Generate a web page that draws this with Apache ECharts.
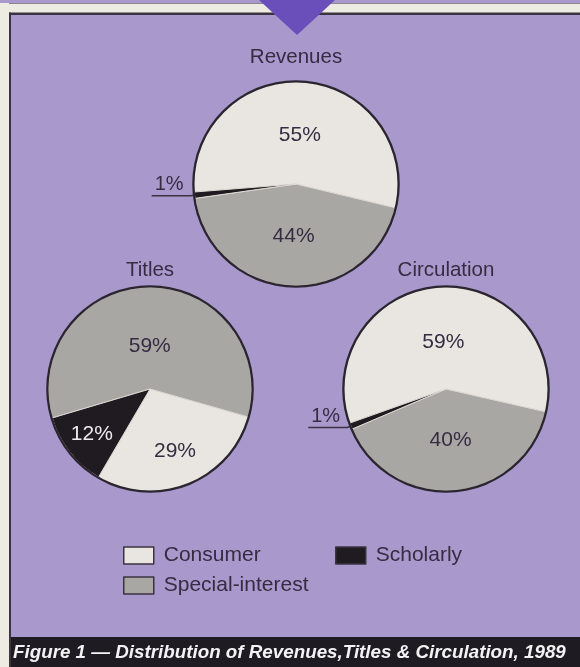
<!DOCTYPE html>
<html>
<head>
<meta charset="utf-8">
<script src="https://cdn.jsdelivr.net/npm/echarts@6/dist/echarts.min.js"></script>
<style>
  html, body { margin: 0; padding: 0; background: #a898cc; }
  #chart { width: 580px; height: 667px; }
</style>
</head>
<body>
<div id="chart"></div>
<script>
// Publishing industry shares, 1989 (percent)
const categories = ['Consumer', 'Special-interest', 'Scholarly'];
const revenues = [55, 44, 1];
const titles = [29, 59, 12];
const circulation = [59, 40, 1];
const pieTitles = ['Revenues', 'Titles', 'Circulation'];
const caption = 'Figure 1 \u2014 Distribution of Revenues,Titles & Circulation, 1989';

// Styling
const FONT = '"Liberation Sans", Arial, Helvetica, sans-serif';
const TEXT = '#352c42';
const PURPLE = '#a898cc';
const sliceColors = ['#e9e6e1', '#a9a7a4', '#201b21'];
const R = 102;

// Per-pie geometry and label radius factors (Consumer, Special-interest, Scholarly)
const pies = [
  { title: pieTitles[0], values: revenues, center: [296, 184], titleY: 58,
    startAngle: 184.5, clockwise: true, labelRadius: [0.9, 0.96, 1] },
  { title: pieTitles[1], values: titles, center: [150, 389], titleY: 271,
    startAngle: 239.7, clockwise: false, labelRadius: [1.24, 0.8, 1.37] },
  { title: pieTitles[2], values: circulation, center: [446, 389], titleY: 271,
    startAngle: 199.5, clockwise: true, labelRadius: [0.86, 0.96, 1] }
];

const isOutside = v => v < 5;

function makeLabelLayout(pie) {
  return function (p) {
    const v = pie.values[p.dataIndex];
    if (isOutside(v)) {
      const pts = p.labelLinePoints;
      if (!pts) return {};
      const end = pts[pts.length - 1];
      // text sits on top of the horizontal leader line
      return { x: end[0] + 3, y: end[1] - 1, align: 'left', verticalAlign: 'bottom',
               labelLinePoints: pts };
    }
    const r = p.labelRect;
    const lx = r.x + r.width / 2, ly = r.y + r.height / 2;
    const f = pie.labelRadius[p.dataIndex];
    const cx = pie.center[0], cy = pie.center[1];
    return { x: cx + (lx - cx) * f, y: cy + (ly - cy) * f, align: 'center', verticalAlign: 'middle' };
  };
}

const series = [];
pies.forEach(pie => {
  series.push({
    type: 'pie',
    name: pie.title,
    center: pie.center,
    radius: R,
    startAngle: pie.startAngle,
    clockwise: pie.clockwise,
    avoidLabelOverlap: false,
    silent: true,
    animation: false,
    itemStyle: { borderColor: '#dedbd5', borderWidth: 1 },
    label: {
      show: true,
      fontFamily: FONT,
      fontSize: 21,
      color: TEXT,
      formatter: p => p.value + '%'
    },
    labelLayout: makeLabelLayout(pie),
    data: categories.map((c, i) => {
      const v = pie.values[i];
      const out = isOutside(v);
      return {
        name: c,
        value: v,
        itemStyle: { color: sliceColors[i] },
        label: out
          ? { position: 'outside', distanceToLabelLine: 0, fontSize: 20 }
          : { position: 'inside', color: i === 2 ? '#eeeaf0' : TEXT },
        labelLine: {
          show: out,
          length: 4,
          length2: 39,
          smooth: false,
          lineStyle: { color: '#3b3342', width: 1.5 }
        }
      };
    })
  });
  // dark rim around each pie
  series.push({
    type: 'pie',
    name: pie.title + ' rim',
    center: pie.center,
    radius: [R - 0.5, R + 1.8],
    silent: true,
    animation: false,
    label: { show: false },
    labelLine: { show: false },
    itemStyle: { color: '#2b2530' },
    data: [{ name: 'rim', value: pie.values.reduce((a, b) => a + b, 0) }]
  });
});

const legendCommon = {
  orient: 'vertical',
  padding: 0,
  icon: 'rect',
  itemWidth: 30,
  itemHeight: 17,
  itemGap: 9,
  selectedMode: false,
  itemStyle: { borderColor: '#3b3342', borderWidth: 1.5 },
  textStyle: { fontFamily: FONT, fontSize: 21, color: TEXT, padding: [0, 0, 0, 5] }
};

const option = {
  backgroundColor: PURPLE,
  animation: false,
  title: pies.map(pie => ({
    text: pie.title,
    left: pie.center[0],
    top: pie.titleY - 11,
    textAlign: 'center',
    padding: 0,
    textStyle: { fontFamily: FONT, fontSize: 20.5, fontWeight: 'normal', color: TEXT }
  })),
  legend: [
    Object.assign({}, legendCommon, { left: 123, top: 545, data: [categories[0], categories[1]] }),
    Object.assign({}, legendCommon, { left: 335, top: 545, data: [categories[2]] })
  ],
  graphic: [
    // page frame: cream margins with dark rules
    { type: 'rect', shape: { x: 0, y: 3, width: 580, height: 10 }, style: { fill: '#eeebe3' }, silent: true },
    { type: 'rect', shape: { x: 0, y: 3, width: 580, height: 1 }, style: { fill: '#8d8592' }, silent: true },
    { type: 'rect', shape: { x: 0, y: 3, width: 9, height: 664 }, style: { fill: '#eeebe3' }, silent: true },
    { type: 'rect', shape: { x: 9, y: 12.5, width: 571, height: 2.5 }, style: { fill: '#3b3440' }, silent: true },
    { type: 'rect', shape: { x: 9, y: 12.5, width: 2, height: 655 }, style: { fill: '#3b3440' }, silent: true },
    // pointer triangle at the top
    { type: 'polygon', shape: { points: [[259, 0], [335, 0], [297, 35]] }, style: { fill: '#6a4fba' }, silent: true },
    // caption bar
    { type: 'rect', shape: { x: 11, y: 637, width: 569, height: 30 }, style: { fill: '#1f1b22' }, silent: true },
    { type: 'text', x: 13, y: 653, silent: true,
      style: { text: caption, fill: '#f4f2f4', font: 'italic bold 18.8px ' + FONT, verticalAlign: 'middle' } }
  ],
  series: series
};

const chart = echarts.init(document.getElementById('chart'), null, { renderer: 'canvas' });
chart.setOption(option);
</script>
</body>
</html>
